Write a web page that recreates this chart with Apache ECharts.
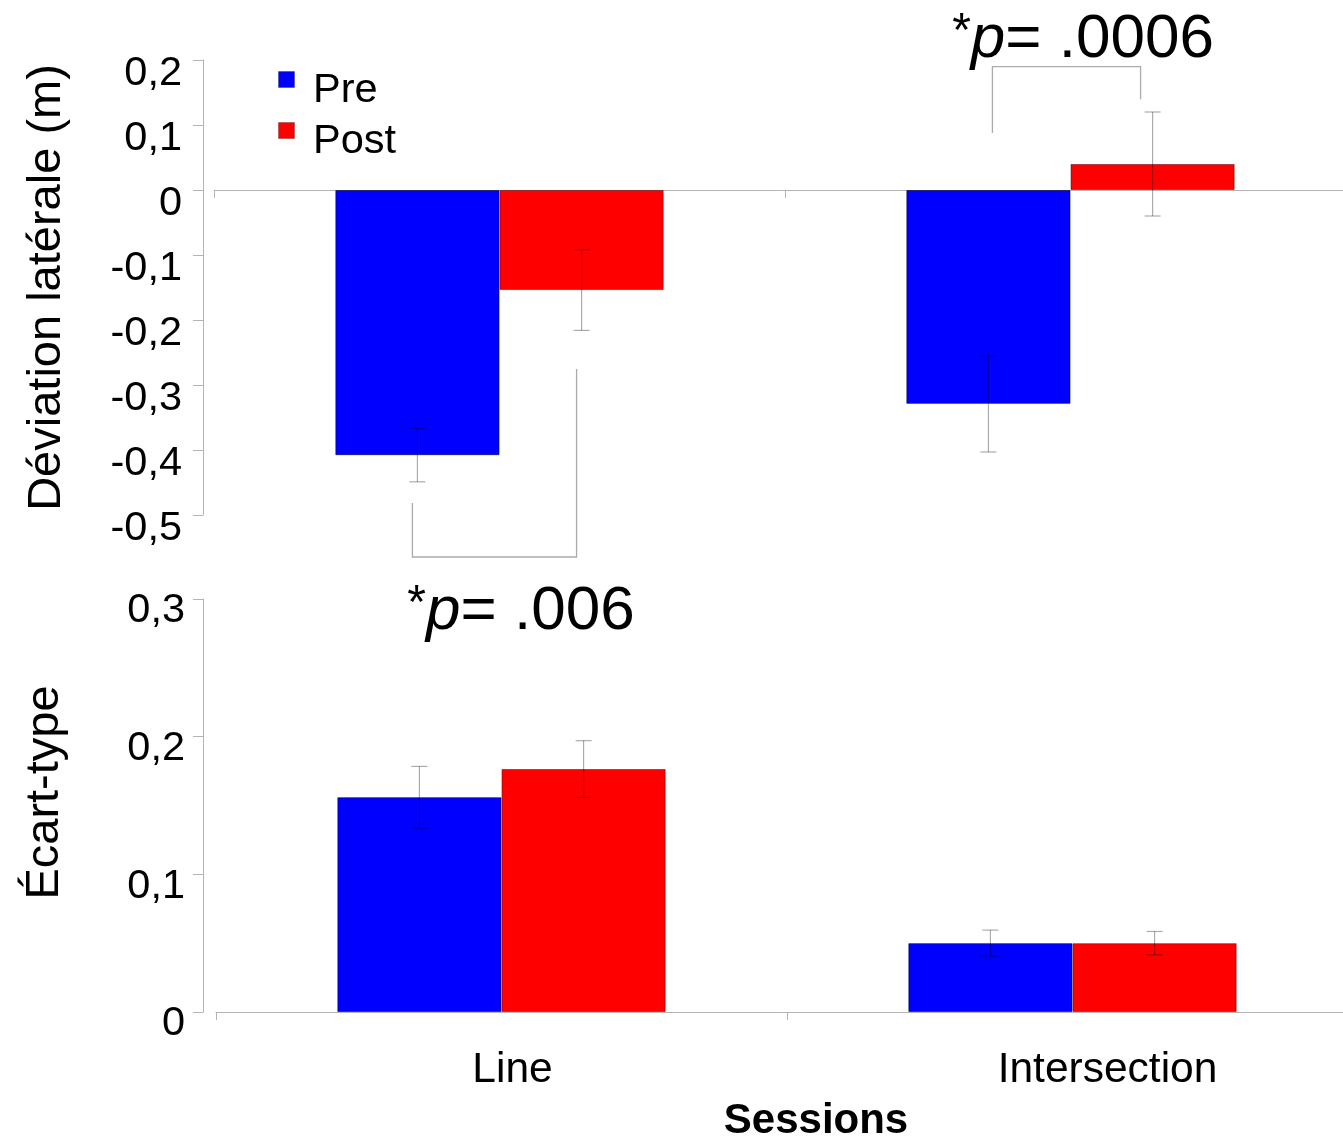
<!DOCTYPE html>
<html>
<head>
<meta charset="utf-8">
<script src="https://cdn.jsdelivr.net/npm/echarts@6/dist/echarts.min.js"></script>
<style>
html,body{margin:0;padding:0;background:#fff;}
#chart{width:1343px;height:1137px;}
</style>
</head>
<body>
<div id="chart"></div>
<script>
// ---- data ----
const categories = ['Line', 'Intersection'];
const seriesNames = ['Pre', 'Post'];

// Top panel: lateral deviation (m)
const devPre = [-0.408, -0.329];
const devPost = [-0.154, 0.040];
const devPreErr = [0.041, 0.074];
const devPostErr = [0.062, 0.080];

// Bottom panel: standard deviation
const sdPre = [0.156, 0.050];
const sdPost = [0.1765, 0.050];
const sdPreErr = [0.0224, 0.0095];
const sdPostErr = [0.0206, 0.0085];

// Tick labels
const topTickLabels = ['-0,5', '-0,4', '-0,3', '-0,2', '-0,1', '0', '0,1', '0,2'];
const bottomTickLabels = ['0', '0,1', '0,2', '0,3'];

// Significance brackets (top panel): category, left leg start, right leg start, bracket level
const bracketCat = [0, 1];
const bracketLeftFrom = [-0.4815, 0.0877];
const bracketRightFrom = [-0.2754, 0.1395];
const bracketLevel = [-0.5646, 0.1897];
const pTexts = ['= .006', '= .0006'];

// ---- chart ----
const FONT = '"Liberation Sans", Arial, Helvetica, sans-serif';
const BLUE = '#0000ff', RED = '#ff0000';
const AXIS_GRAY = '#b4b4b4';
const CAT_GAP = 0.425; // barCategoryGap fraction

function legendIcon(color) {
  const svg = "<svg xmlns='http://www.w3.org/2000/svg' width='17' height='40' viewBox='0 0 17 40'>" +
    "<rect x='0.5' y='0.5' width='16' height='16' fill='" + color + "' stroke='rgba(0,0,0,0.25)' stroke-width='1'/></svg>";
  return 'image://data:image/svg+xml;charset=utf-8,' + encodeURIComponent(svg);
}

function errData(means, errs, s) {
  return means.map((m, i) => [i, m, errs[i], s]);
}

function errRender(params, api) {
  const cat = api.value(0), mean = api.value(1), err = api.value(2), s = api.value(3);
  const band = api.size([1, 0])[0];
  const barW = band * (1 - CAT_GAP) / 2;
  const c = api.coord([cat, mean]);
  const x = c[0] + (s === 0 ? -barW / 2 : barW / 2);
  const yT = api.coord([cat, mean + err])[1];
  const yB = api.coord([cat, mean - err])[1];
  const cap = 8;
  const st = { stroke: 'rgba(0,0,0,0.33)', lineWidth: 1.2 };
  return {
    type: 'group',
    children: [
      { type: 'line', shape: { x1: x, y1: yT, x2: x, y2: yB }, style: st },
      { type: 'line', shape: { x1: x - cap, y1: yT, x2: x + cap, y2: yT }, style: st },
      { type: 'line', shape: { x1: x - cap, y1: yB, x2: x + cap, y2: yB }, style: st }
    ]
  };
}

const bracketData = bracketCat.map((c, i) => [c, bracketLevel[i], bracketLeftFrom[i], bracketRightFrom[i]]);
function bracketRender(params, api) {
  const cat = api.value(0), lvl = api.value(1), lf = api.value(2), rf = api.value(3);
  const band = api.size([1, 0])[0];
  const barW = band * (1 - CAT_GAP) / 2;
  const c = api.coord([cat, lvl]);
  const inset = cat === 0 ? -5 : 4;
  const insetR = cat === 0 ? -5 : -12;
  const xl = c[0] - barW / 2 + inset;
  const xr = c[0] + barW / 2 + insetR;
  const yl = c[1];
  const yLf = api.coord([cat, lf])[1];
  const yRf = api.coord([cat, rf])[1];
  return {
    type: 'polyline',
    shape: { points: [[xl, yLf], [xl, yl], [xr, yl], [xr, yRf]] },
    style: { stroke: '#ababab', lineWidth: 1.3, fill: null }
  };
}

const chart = echarts.init(document.getElementById('chart'), null, { renderer: 'canvas' });

const gridLeft = 214, gridW = 1142;

const option = {
  backgroundColor: '#fff',
  animation: false,
  textStyle: { fontFamily: FONT },
  legend: {
    data: [
      { name: seriesNames[0], icon: legendIcon(BLUE) },
      { name: seriesNames[1], icon: legendIcon(RED) }
    ],
    orient: 'vertical',
    left: 278,
    top: 70,
    padding: 0,
    itemWidth: 17,
    itemHeight: 40,
    itemGap: 9,
    textStyle: { fontSize: 41.5, color: '#000', fontFamily: FONT, padding: [0, 0, 0, 13] }
  },
  grid: [
    { left: gridLeft, width: gridW, top: 60, height: 455, outerBoundsMode: 'none', containLabel: false },
    { left: gridLeft + 2, width: gridW, top: 599, height: 413, outerBoundsMode: 'none', containLabel: false }
  ],
  xAxis: [
    {
      type: 'category', gridIndex: 0, data: categories,
      axisLine: { onZero: true, lineStyle: { color: AXIS_GRAY, width: 1 } },
      axisTick: { show: true, length: 8, lineStyle: { color: AXIS_GRAY } },
      axisLabel: { show: false },
      splitLine: { show: false }
    },
    {
      type: 'category', gridIndex: 1, data: categories,
      axisLine: { lineStyle: { color: AXIS_GRAY, width: 1 } },
      axisTick: { show: true, length: 8, lineStyle: { color: AXIS_GRAY } },
      axisLabel: {
        fontSize: 42.5, color: '#000', margin: 37, fontFamily: FONT,
        formatter: (v, i) => '{c' + i + '|' + v + '}',
        rich: {
          c0: { fontSize: 42.5, fontFamily: FONT, color: '#000', padding: [0, 0, 0, 22] },
          c1: { fontSize: 42.5, fontFamily: FONT, color: '#000', padding: [0, 0, 0, 70] }
        }
      },
      splitLine: { show: false },
      name: 'Sessions',
      nameLocation: 'middle',
      nameGap: 88,
      nameTextStyle: { fontSize: 42, fontWeight: 'bold', color: '#000', fontFamily: FONT, padding: [0, 0, 0, 58] }
    }
  ],
  yAxis: [
    {
      type: 'value', gridIndex: 0, min: -0.5, max: 0.2, interval: 0.1,
      offset: 11,
      axisLine: { show: true, onZero: false, lineStyle: { color: AXIS_GRAY } },
      axisTick: { show: true, length: 10, lineStyle: { color: AXIS_GRAY } },
      splitLine: { show: false },
      axisLabel: {
        fontSize: 41.5, color: '#000', margin: 21, fontFamily: FONT, verticalAlign: 'top', lineHeight: 28,
        formatter: v => topTickLabels[Math.round((v + 0.5) / 0.1)]
      },
      name: 'Déviation latérale (m)',
      nameLocation: 'middle',
      nameGap: 132,
      nameTextStyle: { fontSize: 47, color: '#000', fontFamily: FONT }
    },
    {
      type: 'value', gridIndex: 1, min: 0, max: 0.3, interval: 0.1,
      offset: 13,
      axisLine: { show: true, onZero: false, lineStyle: { color: AXIS_GRAY } },
      axisTick: { show: true, length: 10, lineStyle: { color: AXIS_GRAY } },
      splitLine: { show: false },
      axisLabel: {
        fontSize: 41.5, color: '#000', margin: 18, fontFamily: FONT, verticalAlign: 'top', lineHeight: 24,
        formatter: v => bottomTickLabels[Math.round(v / 0.1)]
      },
      name: 'Écart-type',
      nameLocation: 'middle',
      nameGap: 134,
      nameTextStyle: { fontSize: 47, color: '#000', fontFamily: FONT, padding: [0, 0, 0, 26] }
    }
  ],
  series: [
    {
      name: 'Pre', type: 'bar', xAxisIndex: 0, yAxisIndex: 0, data: devPre,
      barGap: '0%', barCategoryGap: (CAT_GAP * 100) + '%',
      itemStyle: { color: BLUE, borderColor: 'rgba(0,0,60,0.6)', borderWidth: 1 }
    },
    {
      name: 'Post', type: 'bar', xAxisIndex: 0, yAxisIndex: 0, data: devPost,
      barGap: '0%', barCategoryGap: (CAT_GAP * 100) + '%',
      itemStyle: { color: RED, borderColor: 'rgba(90,0,0,0.5)', borderWidth: 1 }
    },
    {
      name: 'Pre', type: 'bar', xAxisIndex: 1, yAxisIndex: 1, data: sdPre,
      barGap: '0%', barCategoryGap: (CAT_GAP * 100) + '%',
      itemStyle: { color: BLUE, borderColor: 'rgba(0,0,60,0.6)', borderWidth: 1 }
    },
    {
      name: 'Post', type: 'bar', xAxisIndex: 1, yAxisIndex: 1, data: sdPost,
      barGap: '0%', barCategoryGap: (CAT_GAP * 100) + '%',
      itemStyle: { color: RED, borderColor: 'rgba(90,0,0,0.5)', borderWidth: 1 }
    },
    {
      type: 'custom', xAxisIndex: 0, yAxisIndex: 0, renderItem: errRender, z: 5,
      encode: { x: 0, y: 1 }, data: errData(devPre, devPreErr, 0).concat(errData(devPost, devPostErr, 1))
    },
    {
      type: 'custom', xAxisIndex: 1, yAxisIndex: 1, renderItem: errRender, z: 5,
      encode: { x: 0, y: 1 }, data: errData(sdPre, sdPreErr, 0).concat(errData(sdPost, sdPostErr, 1))
    },
    {
      type: 'custom', xAxisIndex: 0, yAxisIndex: 0, renderItem: bracketRender, z: 5, clip: false,
      encode: { x: 0, y: 1 }, data: bracketData
    }
  ],
  graphic: [
    {
      type: 'text', x: 521, y: 612,
      style: {
        text: '{a|*}{p|p}{b|' + pTexts[0] + '}',
        align: 'center', verticalAlign: 'middle',
        rich: {
          a: { fontSize: 48, fontFamily: FONT, fill: '#000', padding: [0, 0, 14, 0] },
          p: { fontSize: 62, fontFamily: FONT, fontStyle: 'italic', fill: '#000' },
          b: { fontSize: 62, fontFamily: FONT, fill: '#000' }
        }
      }
    },
    {
      type: 'text', x: 1083, y: 40,
      style: {
        text: '{a|*}{p|p}{b|' + pTexts[1] + '}',
        align: 'center', verticalAlign: 'middle',
        rich: {
          a: { fontSize: 48, fontFamily: FONT, fill: '#000', padding: [0, 0, 14, 0] },
          p: { fontSize: 62, fontFamily: FONT, fontStyle: 'italic', fill: '#000' },
          b: { fontSize: 62, fontFamily: FONT, fill: '#000' }
        }
      }
    }
  ]
};

chart.setOption(option);
</script>
</body>
</html>
